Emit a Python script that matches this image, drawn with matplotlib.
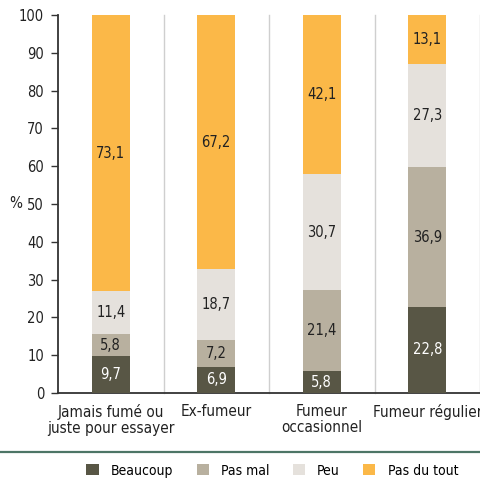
import matplotlib
matplotlib.use('Agg')
import matplotlib.pyplot as plt
from matplotlib.lines import Line2D
from matplotlib.patches import Patch
import numpy as np

# Data
categories = ['Jamais fumé ou\njuste pour essayer', 'Ex-fumeur', 'Fumeur\noccasionnel', 'Fumeur régulier']
series_names = ['Beaucoup', 'Pas mal', 'Peu', 'Pas du tout']
beaucoup = [9.7, 6.9, 5.8, 22.8]
pas_mal = [5.8, 7.2, 21.4, 36.9]
peu = [11.4, 18.7, 30.7, 27.3]
pas_du_tout = [73.1, 67.2, 42.1, 13.1]
yticks = [0, 10, 20, 30, 40, 50, 60, 70, 80, 90, 100]

colors = ['#585645', '#b8b09f', '#e5e1dc', '#fbb848']
label_colors = ['white', '#222222', '#222222', '#222222']

plt.rcParams['font.family'] = 'DejaVu Sans'
plt.rcParams['font.stretch'] = 'condensed'

fig = plt.figure(figsize=(4.81, 4.82), dpi=100)
ax = fig.add_axes([0.1206, 0.1846, 0.8774, 0.7843])

x = np.arange(len(categories))
bottom = np.zeros(len(categories))
for vals, col, lc in zip([beaucoup, pas_mal, peu, pas_du_tout], colors, label_colors):
    vals = np.array(vals)
    ax.bar(x, vals, 0.36, bottom=bottom, color=col, zorder=3)
    for xi, b, v in zip(x, bottom, vals):
        ax.text(xi, b + v / 2, f'{v:.1f}'.replace('.', ','), ha='center', va='center',
                fontsize=10.5, color=lc, zorder=4)
    bottom = bottom + vals

# separators between categories
for sep in x + 0.5:
    ax.plot([sep, sep], [0, 100], color='#cfcfcf', lw=1, zorder=1, clip_on=False)

ax.set_xlim(-0.5, 3.5)
ax.set_ylim(0, 100)
ax.set_yticks(yticks)
ax.set_yticklabels([str(t) for t in yticks], fontsize=10.5, color='#222222')
ax.set_xticks(x)
ax.set_xticklabels(categories, fontsize=11, color='#222222', linespacing=1.1)
ax.tick_params(axis='x', length=0, pad=8)
ax.tick_params(axis='y', length=5, width=1, color='#333333', pad=5)
for s in ['top', 'right']:
    ax.spines[s].set_visible(False)
ax.spines['left'].set_color('#333333')
ax.spines['bottom'].set_color('#333333')
ax.spines['left'].set_linewidth(1.3)
ax.spines['bottom'].set_linewidth(1.3)

# "%" axis label
fig.text(16 / 481, 1 - 204 / 482, '%', fontsize=11, color='#222222', ha='center', va='center')

fig.add_artist(Line2D([0, 1], [0.0622, 0.0622], transform=fig.transFigure,
                      color='#4d7566', lw=1.6))

handles = [Patch(facecolor=c, edgecolor='none') for c in colors]
fig.legend(handles, series_names, loc='center', bbox_to_anchor=(0.566, 0.0235), ncol=4,
           frameon=False, fontsize=10, handlelength=0.87, handleheight=0.87,
           handletextpad=0.87, columnspacing=1.7, borderpad=0)

fig.savefig('out.png', dpi=100)
